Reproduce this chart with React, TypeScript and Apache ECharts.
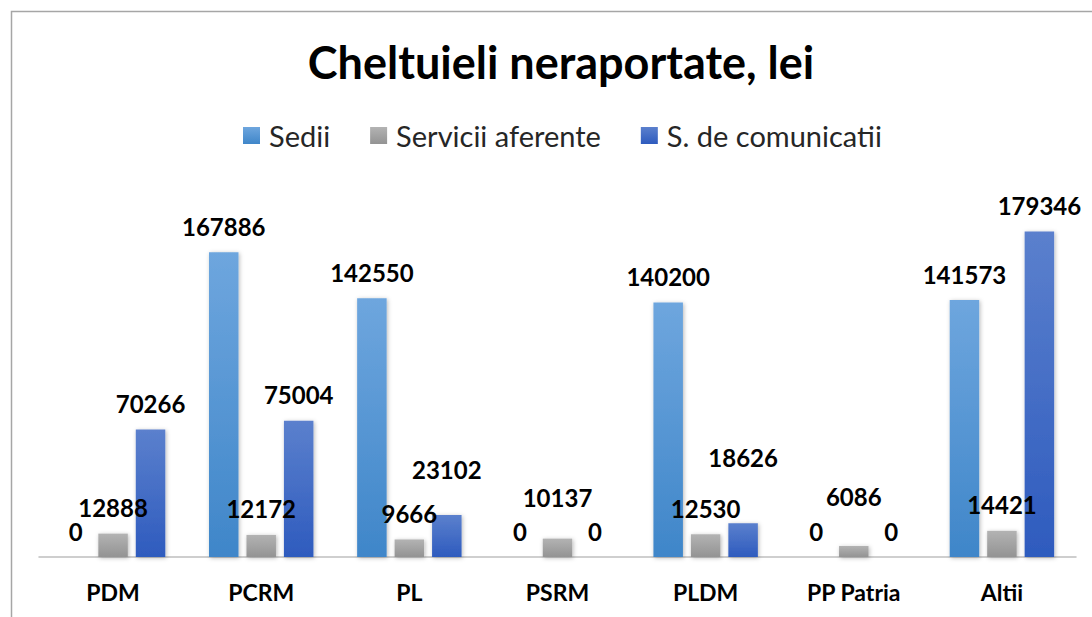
import React, { useEffect, useRef } from "react";
import * as echarts from "echarts";

const categories = ["PDM", "PCRM", "PL", "PSRM", "PLDM", "PP Patria", "Altii"];
const seriesNames = ["Sedii", "Servicii aferente", "S. de comunicatii"];
const sedii = [0, 167886, 142550, 0, 140200, 0, 141573];
const servicii = [12888, 12172, 9666, 10137, 12530, 6086, 14421];
const comunicatii = [70266, 75004, 23102, 0, 18626, 0, 179346];

// extra vertical shifts of some data labels (as placed in the original)
const sediiShift = [0, 0, 0, 0, 0, 0, 0];
const serviciiShift = [0, 0, 0, -15, 0, -23, 0];
const comunicatiiShift = [0, 0, -20, 0, -40, 0, 0];

const FONT = "Lato, 'Open Sans', sans-serif";

function grad(top: string, bottom: string) {
  return new echarts.graphic.LinearGradient(0, 0, 0, 1, [
    { offset: 0, color: top },
    { offset: 1, color: bottom },
  ]);
}

function makeSeries(name: string, values: number[], shifts: number[], top: string, bottom: string) {
  return {
    name,
    type: "bar",
    barWidth: 29.5,
    barGap: "27%",
    itemStyle: {
      color: grad(top, bottom),
      shadowBlur: 4,
      shadowColor: "rgba(0,0,0,0.28)",
      shadowOffsetX: 1,
      shadowOffsetY: 1,
    },
    label: {
      show: true,
      position: "top",
      distance: 14,
      color: "#000",
      fontFamily: FONT,
      fontWeight: "bold",
      fontSize: 24,
    },
    data: values.map((v, i) => ({ value: v, label: { offset: [0, shifts[i]] } })),
  };
}

export default function App() {
  const ref = useRef<HTMLDivElement>(null);
  useEffect(() => {
    if (!ref.current) return;
    const chart = echarts.init(ref.current, undefined, { renderer: "svg" });
    chart.setOption({
      animation: false,
      backgroundColor: "#fff",
      title: {
        text: "Cheltuieli neraportate, lei",
        left: 556,
        textAlign: "center",
        top: 34,
        textStyle: { fontFamily: FONT, fontWeight: "bold", fontSize: 45, color: "#000" },
      },
      legend: {
        data: seriesNames,
        left: 238,
        top: 116,
        itemWidth: 17,
        itemHeight: 17,
        itemGap: 40,
        icon: "rect",
        textStyle: { fontFamily: FONT, fontSize: 29, color: "#262626", padding: [0, 0, 0, 4] },
      },
      graphic: [
        {
          type: "rect",
          z: -10,
          shape: { x: 11.5, y: 11.5, width: 1200, height: 800 },
          style: { fill: "none", stroke: "#a6a6a6", lineWidth: 1.5 },
        },
      ],
      grid: { left: 39, right: 16, top: 194, bottom: 60 },
      xAxis: {
        type: "category",
        data: categories,
        axisLine: { show: true, lineStyle: { color: "#bfbfbf", width: 1.5 } },
        axisTick: { show: false },
        axisLabel: {
          margin: 23,
          fontFamily: FONT,
          fontWeight: "bold",
          fontSize: 23,
          color: "#000",
        },
      },
      yAxis: {
        type: "value",
        min: 0,
        max: 200000,
        show: false,
        splitLine: { show: false },
      },
      series: [
        makeSeries(seriesNames[0], sedii, sediiShift, "#6ea6de", "#3f86c9"),
        makeSeries(seriesNames[1], servicii, serviciiShift, "#b3b3b3", "#939393"),
        makeSeries(seriesNames[2], comunicatii, comunicatiiShift, "#5b80cd", "#2e5bbe"),
      ],
    });
    return () => chart.dispose();
  }, []);
  return (
    <div
      ref={ref}
      style={{ position: "fixed", left: 0, top: 0, width: 1092, height: 617 }}
    />
  );
}
